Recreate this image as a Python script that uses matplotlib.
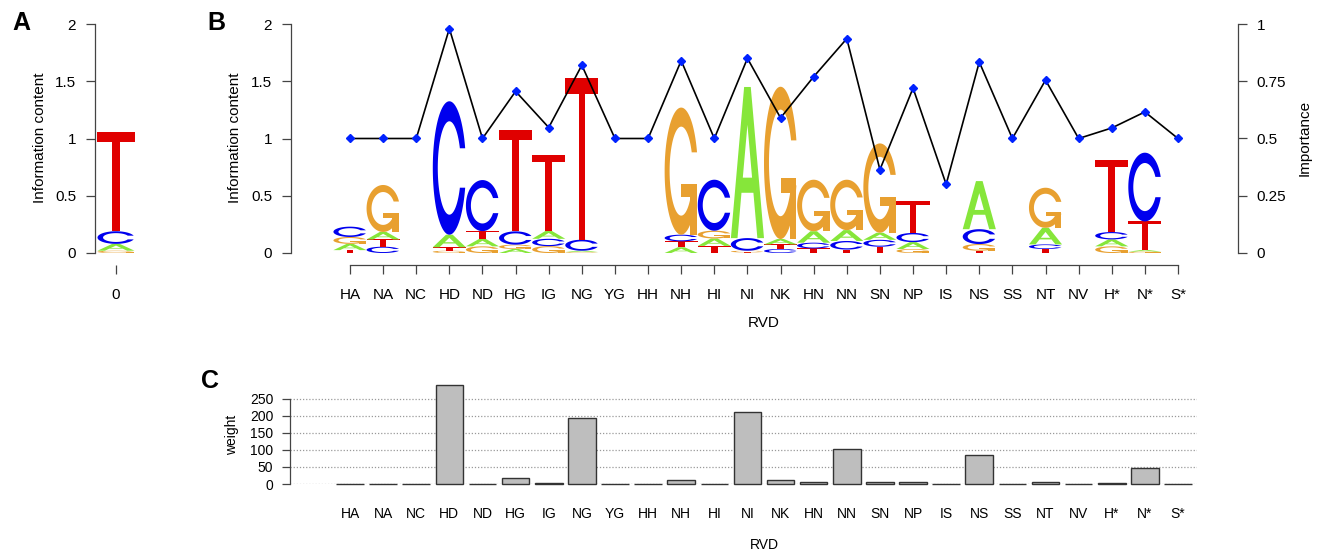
import numpy as np
import matplotlib
matplotlib.use("Agg")
import matplotlib.pyplot as plt
from matplotlib.patches import Polygon

plt.rcParams['font.family'] = ['Liberation Sans', 'DejaVu Sans']

# ---------------- data ----------------
rvd = ["HA", "NA", "NC", "HD", "ND", "HG", "IG", "NG", "YG", "HH", "NH", "HI", "NI",
       "NK", "HN", "NN", "SN", "NP", "IS", "NS", "SS", "NT", "NV", "H*", "N*", "S*"]

# information content (bits) carried by each nucleotide at each RVD
bits_A = [0.055, 0.066, 0, 0.110, 0.065, 0.035, 0.068, 0.012, 0, 0, 0.050, 0.065, 1.320,
          0.047, 0.100, 0.095, 0.062, 0.060, 0, 0.420, 0, 0.145, 0, 0.061, 0.014, 0]
bits_C = [0.090, 0.055, 0, 1.165, 0.446, 0.116, 0.064, 0.096, 0, 0, 0.058, 0.445, 0.110,
          0.035, 0.050, 0.075, 0.060, 0.080, 0, 0.130, 0, 0.040, 0, 0.064, 0.600, 0]
bits_G = [0.060, 0.410, 0, 0.020, 0.058, 0.038, 0.060, 0.008, 0, 0, 1.110, 0.068, 0.015,
          1.330, 0.450, 0.440, 0.780, 0.035, 0, 0.058, 0, 0.350, 0, 0.058, 0.012, 0]
bits_T = [0.025, 0.063, 0, 0.030, 0.068, 0.886, 0.668, 1.414, 0, 0, 0.052, 0.062, 0.005,
          0.040, 0.040, 0.030, 0.055, 0.275, 0, 0.020, 0, 0.035, 0, 0.630, 0.250, 0]

importance = [0.50, 0.50, 0.50, 0.98, 0.50, 0.706, 0.548, 0.82, 0.50, 0.50, 0.84, 0.50, 0.85,
              0.59, 0.77, 0.936, 0.364, 0.72, 0.30, 0.834, 0.50, 0.755, 0.50, 0.546, 0.616, 0.50]

weight = [0, 0, 0, 291, 0, 17, 2, 194, 0, 0, 12, 0, 213,
          12, 7, 102, 6, 6, 0, 84, 0, 6, 0, 2, 47, 0]

# panel A : position 0
pos0_label = ["0"]
pos0_A = [0.06]
pos0_C = [0.11]
pos0_G = [0.02]
pos0_T = [0.87]

colors = {"A": "#86E63A", "C": "#0000EE", "G": "#E8A030", "T": "#E00000"}


# ---------------- letter shapes (seqLogo style) ----------------
def letter_shapes(ch):
    if ch == "T":
        x = np.array([0, 10, 10, 6, 6, 4, 4, 0]) / 10
        y = np.array([10, 10, 9, 9, 0, 0, 9, 9]) / 10
        return [(np.c_[x, y], False)]
    if ch == "A":
        x = np.array([0, 4, 6, 10, 8, 6.8, 3.2, 2, 0]) / 10
        y = np.array([0, 10, 10, 0, 0, 3, 3, 0, 0]) / 10
        hx = np.array([3.6, 5, 6.4, 3.6]) / 10
        hy = np.array([4, 7.5, 4, 4]) / 10
        return [(np.c_[x, y], False), (np.c_[hx, hy], True)]
    a1 = np.linspace(0.3 + np.pi / 2, np.pi, 100)
    a2 = np.linspace(np.pi, 1.5 * np.pi, 100)
    xl1 = 0.5 + 0.5 * np.sin(a1)
    yl1 = 0.5 + 0.5 * np.cos(a1)
    xl = np.r_[xl1, 0.5 + 0.5 * np.sin(a2)]
    yl = np.r_[yl1, 0.5 + 0.5 * np.cos(a2)]
    xo = np.r_[xl, xl[::-1]]
    yo = np.r_[yl, 1 - yl[::-1]]
    ymax1 = yl1.max()
    xi1 = 0.5 + 0.35 * np.sin(a1)
    yi1 = 0.5 + 0.35 * np.cos(a1)
    keep = yi1 <= ymax1
    xi1 = xi1[keep]
    yi1 = yi1[keep].copy()
    yi1[0] = ymax1
    xi = np.r_[xi1, 0.5 + 0.35 * np.sin(a2)]
    yi = np.r_[yi1, 0.5 + 0.35 * np.cos(a2)]
    x1 = np.r_[xi, xi[::-1]]
    y1 = np.r_[yi, 1 - yi[::-1]]
    X = np.r_[xo, x1[::-1]]
    Y = np.r_[yo, y1[::-1]]
    shapes = [(np.c_[X, Y], False)]
    if ch == "G":
        r1 = xl1.max()
        h1 = 0.4
        gx = [r1, 0.5, 0.5, r1 - 0.2, r1 - 0.2, r1, r1]
        gy = [h1, h1, h1 - 0.1, h1 - 0.1, 0, 0, h1]
        shapes.append((np.c_[gx, gy], False))
    return shapes


SHAPES = {c: letter_shapes(c) for c in "ACGT"}


def draw_logo(ax, A, C, G, T):
    for i in range(len(A)):
        col = sorted([("A", A[i]), ("C", C[i]), ("G", G[i]), ("T", T[i])], key=lambda t: t[1])
        base = 0.0
        for ch, h in col:
            if h <= 0:
                continue
            for xy, hole in SHAPES[ch]:
                pts = np.c_[i - 0.5 + xy[:, 0], base + h * xy[:, 1]]
                ax.add_patch(Polygon(pts, closed=True, lw=0,
                                     facecolor="white" if hole else colors[ch],
                                     zorder=2 + (0.1 if hole else 0)))
            base += h


W, H = 1318, 554
fig = plt.figure(figsize=(W / 100, H / 100), dpi=100)


def rect(x0, y0, x1, y1):
    return [x0 / W, 1 - y1 / H, (x1 - x0) / W, (y1 - y0) / H]


axis_col = "#444444"
step = 33.12  # px per category

# ---------------- panel B ----------------
xB0, xB1 = 291, 1238
axB = fig.add_axes(rect(xB0, 24, xB1, 253))
axB.set_xlim((xB0 - 350) / step, (xB1 - 350) / step)
axB.set_ylim(0, 2)
draw_logo(axB, bits_A, bits_C, bits_G, bits_T)
axB.set_xticks(range(len(rvd)))
axB.set_xticklabels(rvd)
axB.set_yticks([0, 0.5, 1, 1.5, 2])
axB.set_yticklabels(["0", "0.5", "1", "1.5", "2"])
for s in ["top", "right"]:
    axB.spines[s].set_visible(False)
axB.spines["left"].set_bounds(0, 2)
axB.spines["bottom"].set_bounds(0, len(rvd) - 1)
axB.spines["bottom"].set_position(("outward", 8.6))
for s in ["left", "bottom"]:
    axB.spines[s].set_color(axis_col)
    axB.spines[s].set_linewidth(0.9)
axB.tick_params(axis="both", direction="out", length=6.5, width=0.9, color=axis_col, labelsize=11)
axB.tick_params(axis="x", pad=10)
axB.tick_params(axis="y", pad=7)

axB2 = axB.twinx()
axB2.set_ylim(0, 1)
axB2.plot(range(len(rvd)), importance, color="black", lw=1.2, marker="D", ms=4,
          mfc="#0022FF", mec="#0022FF", clip_on=False, zorder=5)
axB2.set_yticks([0, 0.25, 0.5, 0.75, 1])
axB2.set_yticklabels(["0", "0.25", "0.5", "0.75", "1"])
for s in ["top", "left", "bottom"]:
    axB2.spines[s].set_visible(False)
axB2.spines["right"].set_bounds(0, 1)
axB2.spines["right"].set_color(axis_col)
axB2.spines["right"].set_linewidth(0.9)
axB2.tick_params(axis="y", direction="out", length=6.5, width=0.9, color=axis_col, labelsize=11, pad=7)

fig.text(235 / W, 1 - 138 / H, "Information content", rotation=90, ha="center", va="center", fontsize=11)
fig.text(1305 / W, 1 - 138 / H, "Importance", rotation=90, ha="center", va="center", fontsize=11)
fig.text(764 / W, 1 - 323 / H, "RVD", ha="center", va="center", fontsize=11)

# ---------------- panel A ----------------
stepA = 37.0
xA0, xA1 = 95, 150
axA = fig.add_axes(rect(xA0, 24, xA1, 253))
axA.set_xlim((xA0 - 116) / stepA, (xA1 - 116) / stepA)
axA.set_ylim(0, 2)
draw_logo(axA, pos0_A, pos0_C, pos0_G, pos0_T)
axA.set_xticks([0])
axA.set_xticklabels(pos0_label)
axA.set_yticks([0, 0.5, 1, 1.5, 2])
axA.set_yticklabels(["0", "0.5", "1", "1.5", "2"])
for s in ["top", "right"]:
    axA.spines[s].set_visible(False)
axA.spines["left"].set_bounds(0, 2)
axA.spines["bottom"].set_bounds(0, 0)
axA.spines["bottom"].set_position(("outward", 8.6))
for s in ["left", "bottom"]:
    axA.spines[s].set_color(axis_col)
    axA.spines[s].set_linewidth(0.9)
axA.tick_params(axis="both", direction="out", length=6.5, width=0.9, color=axis_col, labelsize=11)
axA.tick_params(axis="x", pad=10)
axA.tick_params(axis="y", pad=7)
fig.text(40 / W, 1 - 138 / H, "Information content", rotation=90, ha="center", va="center", fontsize=11)

# ---------------- panel C ----------------
xC0, xC1 = 290, 1197
axC = fig.add_axes(rect(xC0, 385, xC1, 484))
axC.set_xlim((xC0 - 350) / step, (xC1 - 350) / step)
axC.set_ylim(0, 291)
for yv in [0, 50, 100, 150, 200, 250]:
    axC.axhline(yv, color="#9a9a9a", lw=0.9, ls=(0, (1, 1.5)), zorder=0)
axC.bar(range(len(rvd)), weight, width=0.833, color="#BEBEBE", edgecolor="#333333",
        linewidth=1.0, zorder=3, clip_on=False)
axC.set_xticks(range(len(rvd)))
axC.set_xticklabels(rvd)
axC.set_yticks([0, 50, 100, 150, 200, 250])
axC.set_yticklabels(["0", "50", "100", "150", "200", "250"])
for s in ["top", "right", "bottom"]:
    axC.spines[s].set_visible(False)
axC.spines["left"].set_bounds(0, 250)
axC.spines["left"].set_color(axis_col)
axC.spines["left"].set_linewidth(0.9)
axC.tick_params(axis="y", direction="out", length=6, width=0.9, color=axis_col, labelsize=10, pad=6)
axC.tick_params(axis="x", length=0, labelsize=10, pad=16.5)
fig.text(232 / W, 1 - 435 / H, "weight", rotation=90, ha="center", va="center", fontsize=10)
fig.text(764 / W, 1 - 545 / H, "RVD", ha="center", va="center", fontsize=10)

# panel letters
fig.text(21 / W, 1 - 23 / H, "A", ha="center", va="center", fontsize=18, fontweight="bold")
fig.text(216 / W, 1 - 23 / H, "B", ha="center", va="center", fontsize=18, fontweight="bold")
fig.text(210 / W, 1 - 381 / H, "C", ha="center", va="center", fontsize=18, fontweight="bold")

fig.savefig("out.png", dpi=100)
